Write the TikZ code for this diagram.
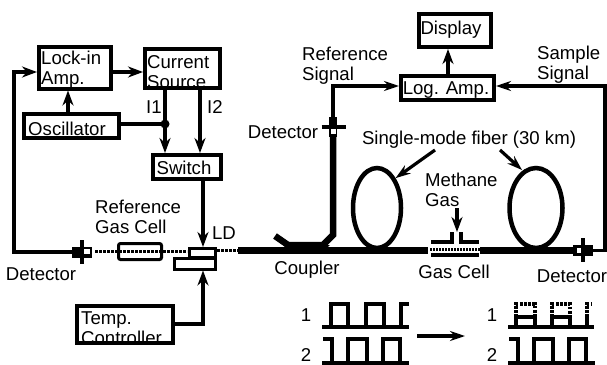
\documentclass[tikz,border=0pt]{standalone}
\usepackage{fontspec}
\setmainfont{Liberation Sans}
\usetikzlibrary{arrows.meta,positioning,shapes.geometric}
\begin{document}
\begin{tikzpicture}[x=1pt,y=-1pt,
box/.style={draw, line width=4pt, inner sep=0pt},
smallbox/.style={draw, line width=3pt, inner sep=0pt},
txt/.style={inner sep=0pt, align=left, font=\fontsize{18.6}{20}\selectfont},
arr/.style={-{Stealth[length=15pt,width=11pt]}, line width=4pt},
thinarr/.style={-{Stealth[length=15pt,width=10pt]}, line width=3.2pt},
wire/.style={line width=4pt},
fiber/.style={line width=6.5pt},
loopfiber/.style={draw, ellipse, line width=4.5pt, inner sep=0pt},
dots/.style={line width=3.5pt, dash pattern=on 2.7pt off 1.3pt},
pulse/.style={line width=3.4pt},
detbody/.style={fill=black, inner sep=0pt},
detwin/.style={fill=white, inner sep=0pt}]
\useasboundingbox (0,0) rectangle (607,364);
% boxes
\node[box, minimum width=72pt, minimum height=42pt] (lockin) at (74.5,67.5) {};
\node[box, minimum width=75pt, minimum height=39pt] (current) at (182.5,68.5) {};
\node[box, minimum width=95pt, minimum height=24pt] (osc) at (71.5,126) {};
\node[box, minimum width=68pt, minimum height=24pt] (switch) at (187,167) {};
\node[box, minimum width=96pt, minimum height=37pt] (temp) at (124.5,324) {};
\node[box, minimum width=93pt, minimum height=24pt] (logamp) at (447.5,88) {};
\node[box, minimum width=72pt, minimum height=33pt] (display) at (455,30.5) {};
\node[smallbox, minimum width=26pt, minimum height=9pt] (ld) at (202,252.5) {};
\node[smallbox, minimum width=41pt, minimum height=11pt] (mount) at (194.5,263.5) {};
% box texts
\node[txt, anchor=west] (lockintxt) at (41,70) {Lock-in\\Amp.};
\node[txt, anchor=west] (currenttxt) at (147,72) {Current\\Source};
\node[txt] (osctxt) at (67,129) {Oscillator};
\node[txt] (switchtxt) at (184,168) {Switch};
\node[txt, anchor=west] (temptxt) at (81,328) {Temp.\\Controller};
\node[txt] (logamptxt) at (446,90) {Log. Amp.};
\node[txt] (displaytxt) at (451,30) {Display};
% detectors
\node[detbody, minimum width=20pt, minimum height=11pt] (detl) at (82,252) {};
\node[detwin, minimum width=6pt, minimum height=5pt] (detlwin) at (87,251.5) {};
\draw[line width=4pt] (82,240) -- (82,264);
\node[detbody, minimum width=20pt, minimum height=11pt] (detr) at (583,250.5) {};
\node[detwin, minimum width=6pt, minimum height=5pt] (detrwin) at (580,250.5) {};
\draw[line width=4pt] (583,238) -- (583,262);
\node[detbody, minimum width=8pt, minimum height=20pt] (dett) at (333,127) {};
\node[detwin, minimum width=5pt, minimum height=5pt] (dettwin) at (333,131.5) {};
\draw[line width=4pt] (321.5,127) -- (345.5,127);
% electrical lines
\coordinate (lockinin) at (37,72);
\coordinate (leftcorner) at (14,252);
\coordinate (dot) at (165,124);
\coordinate (rightcorner) at (605,250.5);
\coordinate (ldin) at (203,247);
\coordinate (itwo) at (200,88);
\coordinate (logout) at (448,76);
\coordinate (refcorner) at (333,86);
\draw[arr] (detl.west) -- (leftcorner) |- (lockinin);
\draw[arr] (lockinin -| lockin.east) -- (lockinin -| current.west);
\draw[arr] ([xshift=-3.5pt]osc.north) -- ([xshift=-3.5pt]osc.north |- lockin.south);
\draw[arr] (dot |- current.south) -- (dot |- switch.north);
\draw[arr] (itwo) -- (itwo |- switch.north);
\draw[wire] (osc.east |- dot) -- (dot);
\fill (dot) circle (4.5pt);
\draw[arr] (ldin |- switch.south) -- (ldin);
\draw[arr] (temp.east) -| (ldin |- mount.south);
\draw[thinarr] (dett.north) -- (refcorner) -- (refcorner -| logamp.west);
\draw[thinarr] (detr.east) -- (rightcorner) |- (refcorner -| logamp.east);
\draw[arr] (logout) -- (logout |- display.south);
% reference path
\node[smallbox, rounded corners=2pt, minimum width=43pt, minimum height=16pt] (refcell) at (140,251.5) {};
\draw[dots] (95,251.5) -- (187,251.5);
\draw[dots] (217,250.5) -- (238,250.5);
% fiber
\coordinate (fiberl) at (238,250.5);
\coordinate (cellin) at (428,250.5);
\coordinate (cellout) at (480,250.5);
\draw[fiber] (fiberl) -- (cellin);
\draw[fiber] (cellout) -- (detr.west);
\draw[fiber] (275,236) -- (288,245) -- (323,245) -- (333,235) -- (dett.south);
\fill (283,245) -- (330,245) -- (322,252) -- (290,252) -- cycle;
\node[loopfiber, minimum width=48pt, minimum height=80pt] (loopl) at (377,208) {};
\node[loopfiber, minimum width=53pt, minimum height=80pt] (loopr) at (536,208) {};
% gas cell
\draw[line width=3.5pt] (431,242) -- (452,242) -- (452,232);
\draw[line width=3.5pt] (479,242) -- (461,242) -- (461,232);
\draw[line width=3.5pt] (431,255) -- (479,255);
\draw[line width=3pt, dash pattern=on 2.2pt off 0.8pt] (430,249) -- (480,249);
\coordinate (gasin) at (457,208);
\draw[arr] (gasin) -- (457,232);
% labels
\node[txt, anchor=west] (i1) at (146,107) {I1};
\node[txt, anchor=west] (i2) at (207,107) {I2};
\node[txt] (ldtxt) at (224,233) {LD};
\node[txt, anchor=west] (refgas) at (95,217) {Reference\\Gas Cell};
\node[txt] (detltxt) at (41,274) {Detector};
\node[txt] (dettxt) at (283,132) {Detector};
\node[txt] (detrtxt) at (572,276) {Detector};
\node[txt] (coupler) at (307,270) {Coupler};
\node[txt] (gascell) at (454,272) {Gas Cell};
\node[txt, anchor=west] (methane) at (425,190) {Methane\\Gas};
\node[txt, anchor=west] (refsig) at (302,66) {Reference\\Signal};
\node[txt, anchor=west] (samsig) at (537,65) {Sample\\Signal};
\node[txt] (smf) at (469,140) {Single-mode fiber (30 km)};
\coordinate (smfa) at (435,150);
\coordinate (smfb) at (500,150);
\draw[thinarr] (smfa) -- (loopl.north east);
\draw[thinarr] (smfb) -- (522,170);
% pulse trains
\node[txt] (leftone) at (306,315) {1};
\node[txt] (lefttwo) at (306,355) {2};
\node[txt] (rightone) at (492,315) {1};
\node[txt] (righttwo) at (492,355) {2};
\draw[pulse] (322,327) -- (409,327);
\draw[pulse] (331,327) |- (348,304) -- (348,327);
\draw[pulse] (366,327) |- (384,304) -- (384,327);
\draw[pulse] (401,327) |- (409,304);
\foreach \dx in {0,186}
  \draw[pulse] (323+\dx,339) -| (332+\dx,363) -- (348+\dx,363) -- (348+\dx,339) -| (367+\dx,363) -- (383+\dx,363) -- (383+\dx,339) -| (400+\dx,363);
\draw[pulse] (322,363) -- (409,363);
\draw[pulse] (508,363) -- (595,363);
\draw[pulse] (508,327) -- (594,327);
\foreach \xa/\xb in {516/535,552/570}{
  \draw[pulse] (\xa,327) |- (\xb,317) -- (\xb,327);
  \draw[pulse, dash pattern=on 2.7pt off 1.5pt] (\xa,317) |- (\xb,304) -- (\xb,317);
}
\draw[pulse] (587,327) -- (587,317);
\draw[pulse, dash pattern=on 2.7pt off 1.5pt] (587,317) |- (592,304);
\coordinate (trainl) at (417,336);
\coordinate (trainr) at (465,336);
\draw[thinarr] (trainl) -- (trainr);
\end{tikzpicture}
\end{document}
